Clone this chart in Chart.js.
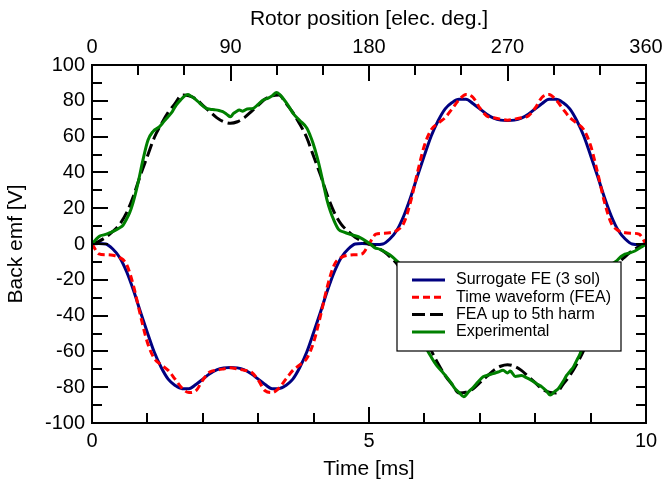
<!DOCTYPE html>
<html>
<head>
<meta charset="utf-8">
<script src="https://cdn.jsdelivr.net/npm/chart.js@4.4.0/dist/chart.umd.min.js"></script>
<style>
  body { margin: 0; background: #fff; }
</style>
</head>
<body>
<canvas id="emfChart" width="663" height="485"></canvas>
<script>
// sample times [ms] for the simulated curves
const timeMs = [0, 0.125, 0.25, 0.375, 0.5, 0.625, 0.75, 0.875, 1, 1.125, 1.25, 1.375, 1.5, 1.625, 1.75, 1.875, 2, 2.125, 2.25, 2.375,
  2.5, 2.625, 2.75, 2.875, 3, 3.125, 3.25, 3.375, 3.5, 3.625, 3.75, 3.875, 4, 4.125, 4.25, 4.375, 4.5, 4.625, 4.75, 4.875,
  5, 5.125, 5.25, 5.375, 5.5, 5.625, 5.75, 5.875, 6, 6.125, 6.25, 6.375, 6.5, 6.625, 6.75, 6.875, 7, 7.125, 7.25, 7.375,
  7.5, 7.625, 7.75, 7.875, 8, 8.125, 8.25, 8.375, 8.5, 8.625, 8.75, 8.875, 9, 9.125, 9.25, 9.375, 9.5, 9.625, 9.75, 9.875, 10];

const surrogateFE = [0, 0.3, 0, -2.8, -7.5, -15.5, -26, -38, -49.5, -60.5, -69, -75.5, -79, -80.8, -80.8, -78.5, -75.5, -72.5, -70.3, -69.2,
  -69, -69.2, -70.3, -72.5, -75.5, -78.5, -80.8, -80.8, -79, -75.5, -69, -60.5, -49.5, -38, -26, -15.5, -7.5, -2.8, 0, 0.3,
  0, -0.3, 0, 2.8, 7.5, 15.5, 26, 38, 49.5, 60.5, 69, 75.5, 79, 80.8, 80.8, 78.5, 75.5, 72.5, 70.3, 69.2,
  69, 69.2, 70.3, 72.5, 75.5, 78.5, 80.8, 80.8, 79, 75.5, 69, 60.5, 49.5, 38, 26, 15.5, 7.5, 2.8, 0, -0.3, 0];

const timeWaveformFEA = [0, -5.5, -6, -6.3, -7.5, -11.5, -23.5, -40, -55, -64, -67.5, -70.6, -75.5, -80.5, -83, -82, -76, -71.5, -70.5, -69.8,
  -69.2, -69.8, -70.5, -71.5, -76, -82, -83, -80.5, -75.5, -70.6, -67.5, -64, -55, -40, -23.5, -11.5, -7.5, -6.3, -6, -5.5,
  0, 5.5, 6, 6.3, 7.5, 11.5, 23.5, 40, 55, 64, 67.5, 70.6, 75.5, 80.5, 83.5, 82, 76, 71.5, 70.5, 69.8,
  69.2, 69.8, 70.5, 71.5, 76, 82, 83.5, 80.5, 75.5, 70.6, 67.5, 64, 55, 40, 23.5, 11.5, 7.5, 6.3, 6, 5.5, 0];

const feaFifthHarm = [0, 1.5, 3.8, 7, 11, 17.5, 27, 38.5, 49, 59.5, 67, 73.5, 78.5, 83.2, 82.8, 81, 77.5, 74, 70.6, 68.3,
  67.4, 68.3, 70.6, 74, 77.5, 81, 82.8, 83.2, 78.5, 73.5, 67, 59.5, 49, 38.5, 27, 17.5, 11, 7, 3.8, 1.5,
  0, -1.5, -3.8, -7, -11, -17.5, -27, -38.5, -49, -59.5, -67, -73.5, -78.5, -83.2, -82.8, -81, -77.5, -74, -70.6, -68.3,
  -67.4, -68.3, -70.6, -74, -77.5, -81, -82.8, -83.2, -78.5, -73.5, -67, -59.5, -49, -38.5, -27, -17.5, -11, -7, -3.8, -1.5, 0];

// measured curve, own sample times
const expTimeMs = [0, 0.07, 0.14, 0.23, 0.32, 0.41, 0.5, 0.56, 0.62, 0.68, 0.74, 0.83, 0.92, 1.01, 1.1, 1.22, 1.3, 1.37, 1.45, 1.52,
  1.6, 1.67, 1.73, 1.79, 1.85, 1.95, 2.06, 2.13, 2.21, 2.29, 2.36, 2.43, 2.5, 2.55, 2.6, 2.66, 2.72, 2.8, 2.91, 3.0,
  3.09, 3.18, 3.26, 3.33, 3.39, 3.45, 3.54, 3.63, 3.75, 3.88, 3.94, 3.99, 4.06, 4.12, 4.18, 4.24, 4.3, 4.36, 4.45, 4.55,
  4.66, 4.75, 4.84, 4.93, 5.02, 5.1, 5.2, 5.29, 5.38, 5.5, 5.6, 5.7, 5.8, 5.9, 6.0, 6.04, 6.13, 6.22, 6.31, 6.4,
  6.48, 6.55, 6.63, 6.71, 6.8, 6.88, 6.97, 7.06, 7.15, 7.24, 7.33, 7.42, 7.5, 7.55, 7.64, 7.75, 7.85, 7.95, 8.05, 8.12,
  8.2, 8.27, 8.35, 8.42, 8.5, 8.57, 8.63, 8.69, 8.75, 8.81, 8.9, 9.0, 9.1, 9.2, 9.3, 9.4, 9.47, 9.55, 9.62, 9.7,
  9.8, 9.9, 10];

const experimental = [0, 2.5, 4.4, 5.2, 6.3, 7.5, 9.1, 10.5, 13.7, 17.5, 23, 34, 47, 58, 62.8, 65.6, 68.5, 71, 74, 77.6,
  80.5, 82.6, 83.5, 82.5, 81.3, 78.5, 75.8, 75.3, 75, 74.6, 73.9, 72.5, 71.1, 72.8, 73.9, 74.8, 74.2, 75.4, 75.8, 78,
  80.4, 81.5, 83, 84.7, 83.5, 81.3, 77.5, 73, 69, 64.7, 60.5, 56.3, 49, 41.5, 33, 24.8, 18.5, 13.7, 8.2, 6.6,
  5.4, 4.6, 3.6, 2, 0, -2, -3, -4.5, -6.1, -9.4, -13, -22, -33, -45, -55, -58.5, -63.5, -67.8, -71, -74.2,
  -77.5, -80.7, -83, -85.3, -82.5, -80.2, -77, -74.2, -73.2, -72.4, -71.5, -70.6, -72, -71, -74, -73.5, -74.8, -76.5, -78.5, -79.8,
  -82, -84.4, -82.5, -80.7, -77, -73.3, -71, -68.7, -65, -61.3, -53, -42, -30, -20, -14, -11, -9.4, -7, -5.7, -5,
  -3.9, -2, 0];

// tick marks (inside the frame) and labelled ticks
const timeTicks = [0, 1, 2, 3, 4, 5, 6, 7, 8, 9, 10];
const timeLabels = [0, 5, 10];
const rotorTicks = [0, 30, 60, 90, 120, 150, 180, 210, 240, 270, 300, 330, 360];
const rotorLabels = [0, 90, 180, 270, 360];
const emfTicks = [-100, -90, -80, -70, -60, -50, -40, -30, -20, -10, 0, 10, 20, 30, 40, 50, 60, 70, 80, 90, 100];
const emfLabels = [-100, -80, -60, -40, -20, 0, 20, 40, 60, 80, 100];

const toPoints = (xs, ys) => xs.map((x, i) => ({ x: x, y: ys[i] }));

Chart.defaults.font.family = '"Liberation Sans", Arial, sans-serif';
Chart.defaults.color = '#000';

const frameAndLegend = {
  id: 'frameAndLegend',
  afterDatasetsDraw(chart) {
    const { ctx, chartArea: a, scales } = chart;
    ctx.save();
    ctx.strokeStyle = '#000';
    ctx.lineWidth = 2;
    ctx.beginPath();
    emfTicks.forEach(v => {
      const y = Math.round(scales.y.getPixelForValue(v));
      const len = emfLabels.includes(v) ? 16 : 10;
      ctx.moveTo(a.left, y); ctx.lineTo(a.left + len, y);
      ctx.moveTo(a.right, y); ctx.lineTo(a.right - 10, y);
    });
    timeTicks.forEach(t => {
      const x = Math.round(scales.x.getPixelForValue(t));
      const len = timeLabels.includes(t) ? 16 : 10;
      ctx.moveTo(x, a.bottom); ctx.lineTo(x, a.bottom - len);
    });
    rotorTicks.forEach(d => {
      const x = Math.round(scales.xTop.getPixelForValue(d));
      const len = rotorLabels.includes(d) ? 16 : 10;
      ctx.moveTo(x, a.top); ctx.lineTo(x, a.top + len);
    });
    ctx.stroke();
    ctx.strokeRect(a.left, a.top, a.right - a.left, a.bottom - a.top);

    // legend box inside the plot
    const bx = a.left + 305, by = a.top + 197, bw = 224, bh = 89;
    ctx.fillStyle = '#fff';
    ctx.fillRect(bx, by, bw, bh);
    ctx.lineWidth = 1.2;
    ctx.strokeRect(bx, by, bw, bh);
    ctx.font = '16px "Liberation Sans", Arial, sans-serif';
    ctx.textBaseline = 'middle';
    ctx.textAlign = 'left';
    chart.data.datasets.forEach((ds, i) => {
      const y = by + 18 + i * 17.3;
      ctx.beginPath();
      ctx.strokeStyle = ds.borderColor;
      ctx.lineWidth = 3;
      ctx.setLineDash(ds.borderDash || []);
      ctx.moveTo(bx + 15, y); ctx.lineTo(bx + 48, y);
      ctx.stroke();
      ctx.setLineDash([]);
      ctx.fillStyle = '#000';
      ctx.fillText(ds.label, bx + 59, y);
    });
    ctx.restore();
  }
};

new Chart(document.getElementById('emfChart'), {
  type: 'line',
  data: {
    datasets: [
      { label: 'Surrogate FE (3 sol)', data: toPoints(timeMs, surrogateFE), borderColor: '#000080', borderWidth: 3, order: 4 },
      { label: 'Time waveform (FEA)', data: toPoints(timeMs, timeWaveformFEA), borderColor: '#ff0000', borderWidth: 3, borderDash: [7, 4], order: 3 },
      { label: 'FEA up to 5th harm', data: toPoints(timeMs, feaFifthHarm), borderColor: '#000000', borderWidth: 3, borderDash: [13, 5], order: 2 },
      { label: 'Experimental', data: toPoints(expTimeMs, experimental), borderColor: '#008000', borderWidth: 3, order: 1 }
    ]
  },
  options: {
    responsive: false,
    animation: false,
    devicePixelRatio: 1,
    layout: { padding: { left: 0, right: 17, top: 0, bottom: 0 } },
    elements: { point: { radius: 0 }, line: { cubicInterpolationMode: 'monotone' } },
    plugins: { legend: { display: false }, tooltip: { enabled: false } },
    scales: {
      x: {
        type: 'linear', position: 'bottom', min: 0, max: 10,
        ticks: { stepSize: 5, padding: 6, font: { size: 20 }, maxRotation: 0, autoSkip: false },
        grid: { display: false, drawTicks: false },
        border: { display: false },
        title: { display: true, text: 'Time [ms]', font: { size: 21 }, padding: { top: 0, bottom: 3 } },
        afterFit(s) { s.height = 62; s.paddingLeft = 0; s.paddingRight = 0; }
      },
      xTop: {
        type: 'linear', position: 'top', min: 0, max: 360,
        ticks: { stepSize: 90, padding: 6, font: { size: 20 }, maxRotation: 0, autoSkip: false },
        grid: { display: false, drawTicks: false },
        border: { display: false },
        title: { display: true, text: 'Rotor position [elec. deg.]', font: { size: 21 }, padding: { top: 7, bottom: 0 } },
        afterFit(s) { s.height = 65; s.paddingLeft = 0; s.paddingRight = 0; }
      },
      y: {
        min: -100, max: 100,
        ticks: { stepSize: 20, padding: 7, font: { size: 20 }, autoSkip: false },
        grid: { display: false, drawTicks: false },
        border: { display: false },
        title: { display: true, text: 'Back emf [V]', font: { size: 21 }, padding: { top: 4, bottom: 0 } },
        afterFit(s) { s.width = 92; s.paddingTop = 0; s.paddingBottom = 0; }
      }
    }
  },
  plugins: [frameAndLegend]
});
</script>
</body>
</html>
